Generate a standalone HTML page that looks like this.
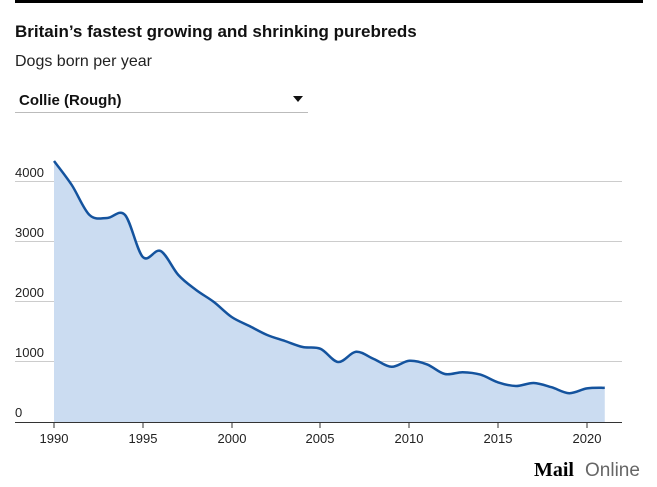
<!DOCTYPE html>
<html><head><meta charset="utf-8"><style>
body{margin:0;width:657px;height:487px;background:#fff;overflow:hidden;font-family:"Liberation Sans",sans-serif}
</style></head><body>
<svg width="657" height="487" xmlns="http://www.w3.org/2000/svg" style="position:absolute;left:0;top:0">
<rect x="15" y="0" width="628" height="3" fill="#000"/>
<text x="15" y="37" font-size="17" font-weight="bold" fill="#111">Britain’s fastest growing and shrinking purebreds</text>
<text x="15" y="66" font-size="16" fill="#222">Dogs born per year</text>
<text x="19" y="105" font-size="15" font-weight="bold" fill="#111">Collie (Rough)</text>
<path d="M293 96 L303 96 L298 102 Z" fill="#111"/>
<line x1="15" y1="112.5" x2="308" y2="112.5" stroke="#bbb"/>
<g stroke="#ccc" stroke-width="1">
<line x1="15" y1="181.5" x2="622" y2="181.5"/>
<line x1="15" y1="241.5" x2="622" y2="241.5"/>
<line x1="15" y1="301.5" x2="622" y2="301.5"/>
<line x1="15" y1="361.5" x2="622" y2="361.5"/>
</g>
<g font-size="13" fill="#222">
<text x="15" y="177">4000</text><text x="15" y="237">3000</text><text x="15" y="297">2000</text><text x="15" y="357">1000</text><text x="15" y="417">0</text>
</g>
<path id="area" fill="#cbdcf1"/>
<path id="line" fill="none" stroke="#14539e" stroke-width="2.5"/>
<line x1="15" y1="422.5" x2="622" y2="422.5" stroke="#333"/>
<g stroke="#333"><line x1="54" y1="422" x2="54" y2="428"/><line x1="143" y1="422" x2="143" y2="428"/><line x1="232" y1="422" x2="232" y2="428"/><line x1="320" y1="422" x2="320" y2="428"/><line x1="409" y1="422" x2="409" y2="428"/><line x1="498" y1="422" x2="498" y2="428"/><line x1="587" y1="422" x2="587" y2="428"/></g>
<g font-size="13" fill="#222" text-anchor="middle">
<text x="54" y="443">1990</text><text x="143" y="443">1995</text><text x="232" y="443">2000</text><text x="320" y="443">2005</text><text x="409" y="443">2010</text><text x="498" y="443">2015</text><text x="587" y="443">2020</text>
</g>
<text x="534" y="476" font-size="20" font-weight="bold" font-family="Liberation Serif,serif" fill="#000">Mail</text>
<text x="585" y="476" font-size="19" fill="#666">Online</text>
</svg>
<script>
var d=[4350,3950,3450,3400,3450,2750,2850,2450,2200,2000,1750,1600,1450,1350,1250,1220,1000,1170,1050,920,1020,960,800,830,790,660,600,650,580,480,560,570];
var p=d.map(function(v,i){return [54+i*533/30,422-v*0.06]});
var s="M"+p[0][0]+","+p[0][1];
for(var i=0;i<p.length-1;i++){var a=p[i-1]||p[i],b=p[i],c=p[i+1],e=p[i+2]||c;
s+=" C"+(b[0]+(c[0]-a[0])/6)+","+(b[1]+(c[1]-a[1])/6)+" "+(c[0]-(e[0]-b[0])/6)+","+(c[1]-(e[1]-b[1])/6)+" "+c[0]+","+c[1];}
document.getElementById('line').setAttribute('d',s);
var l=p[p.length-1];
document.getElementById('area').setAttribute('d',s+" L"+l[0]+",422 L54,422 Z");
</script>
</body></html>
